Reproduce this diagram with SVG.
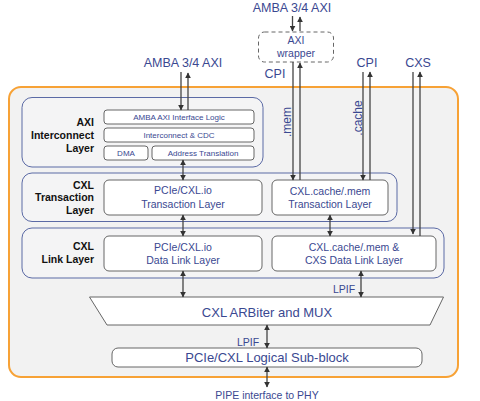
<svg xmlns="http://www.w3.org/2000/svg" width="480" height="401" viewBox="0 0 480 401">
<style>
.t{font-family:"Liberation Sans",Arial,sans-serif;fill:#3a4891;text-anchor:middle}
.lb{font-family:"Liberation Sans",Arial,sans-serif;font-weight:bold;fill:#111;text-anchor:end;font-size:10.5px}
.layer{fill:#f4f4f5;stroke:#5b6aa5;stroke-width:1}
.box{fill:#fff;stroke:#666;stroke-width:1}
.ln{stroke:#444;stroke-width:1.3;fill:none}
</style>
<defs>
<marker id="ah" viewBox="0 0 10 10" refX="9" refY="5" markerWidth="6" markerHeight="6" markerUnits="userSpaceOnUse" orient="auto-start-reverse">
<path d="M0,0 L10,5 L0,10 z" fill="#333"/>
</marker>
</defs>
<rect width="480" height="401" fill="#fff"/>
<rect id="container" x="9" y="87" width="449" height="290" rx="12" fill="#f2f2f2" stroke="#f7a236" stroke-width="2"/>

<g id="axi-layer">
<rect class="layer" x="22" y="97.5" width="241" height="69.5" rx="10"/>
<text class="lb" x="94" y="125.5">AXI</text>
<text class="lb" x="94" y="138.5">Interconnect</text>
<text class="lb" x="94" y="151.5">Layer</text>
</g>
<g id="amba-logic"><rect class="box" x="104" y="110" width="150" height="14" rx="3"/><text class="t" x="179" y="120" font-size="8">AMBA AXI Interface Logic</text></g>
<g id="interconnect-cdc"><rect class="box" x="104" y="128" width="150" height="14" rx="3"/><text class="t" x="179" y="138" font-size="8">Interconnect &amp; CDC</text></g>
<g id="dma"><rect class="box" x="104" y="146" width="44" height="14" rx="3"/><text class="t" x="126" y="156" font-size="8">DMA</text></g>
<g id="addr-trans"><rect class="box" x="152" y="146" width="102" height="14" rx="3"/><text class="t" x="203" y="156" font-size="8">Address Translation</text></g>

<g id="transaction-layer">
<rect class="layer" x="22" y="173" width="375" height="48.5" rx="10"/>
<text class="lb" x="94" y="188.5">CXL</text>
<text class="lb" x="94" y="201">Transaction</text>
<text class="lb" x="94" y="213.5">Layer</text>
</g>
<g id="io-trans"><rect class="box" x="104" y="180" width="158" height="35" rx="5"/><text class="t" x="183" y="194" font-size="10.5">PCIe/CXL.io</text><text class="t" x="183" y="208" font-size="10.5">Transaction Layer</text></g>
<g id="cache-trans"><rect class="box" x="272" y="180" width="116" height="35" rx="5"/><text class="t" x="330" y="194.5" font-size="10.5">CXL.cache/.mem</text><text class="t" x="330" y="208" font-size="10.5">Transaction Layer</text></g>

<g id="link-layer">
<rect class="layer" x="22" y="228" width="422" height="50" rx="10"/>
<text class="lb" x="94" y="250">CXL</text>
<text class="lb" x="94" y="262.5">Link Layer</text>
</g>
<g id="io-link"><rect class="box" x="104" y="236" width="158" height="35" rx="5"/><text class="t" x="183" y="251" font-size="10.5">PCIe/CXL.io</text><text class="t" x="183" y="263.5" font-size="10.5">Data Link Layer</text></g>
<g id="cache-link"><rect class="box" x="272" y="236" width="164" height="35" rx="5"/><text class="t" x="354" y="251" font-size="10.5">CXL.cache/.mem &amp;</text><text class="t" x="354" y="263.5" font-size="10.5">CXS Data Link Layer</text></g>

<g id="arb-mux"><path d="M89.5,297 L443.5,297 L430,325 L107,325 Z" fill="#fff" stroke="#666" stroke-width="1"/><text class="t" x="267" y="316.5" font-size="13">CXL ARBiter and MUX</text></g>
<g id="logical-sub"><rect class="box" x="112" y="348" width="310" height="19" rx="6"/><text class="t" x="267" y="362" font-size="13">PCIe/CXL Logical Sub-block</text></g>

<g id="axi-wrapper"><rect x="258.5" y="32" width="75" height="30" rx="6" fill="#fff" stroke="#666" stroke-width="1" stroke-dasharray="4,3"/><text class="t" x="296" y="44" font-size="10.5">AXI</text><text class="t" x="296" y="57" font-size="10.5">wrapper</text></g>

<g id="labels">
<text class="t" x="183" y="66.5" font-size="12.5">AMBA 3/4 AXI</text>
<text class="t" x="292" y="11.5" font-size="12.5">AMBA 3/4 AXI</text>
<text class="t" x="275" y="77.5" font-size="12.5">CPI</text>
<text class="t" x="367" y="66.5" font-size="12.5">CPI</text>
<text class="t" x="418" y="66.5" font-size="12.5">CXS</text>
<text class="t" x="291" y="122" font-size="12" transform="rotate(-90 291 122)">.mem</text>
<text class="t" x="362" y="118" font-size="12" transform="rotate(-90 362 118)">.cache</text>
<text class="t" x="344" y="293" font-size="10.5">LPIF</text>
<text class="t" x="248" y="345.5" font-size="10.5">LPIF</text>
<text class="t" x="267" y="399" font-size="10.5">PIPE interface to PHY</text>
</g>

<g id="connectors">
<line class="ln" x1="181" y1="72" x2="181" y2="110" marker-end="url(#ah)"/>
<line class="ln" x1="188" y1="110" x2="188" y2="73" marker-end="url(#ah)"/>
<line class="ln" x1="292.5" y1="16" x2="292.5" y2="31" marker-end="url(#ah)"/>
<line class="ln" x1="300" y1="31" x2="300" y2="17" marker-end="url(#ah)"/>
<line class="ln" x1="293" y1="62" x2="293" y2="180" marker-end="url(#ah)"/>
<line class="ln" x1="300" y1="180" x2="300" y2="63" marker-end="url(#ah)"/>
<line class="ln" x1="363" y1="72" x2="363" y2="180" marker-end="url(#ah)"/>
<line class="ln" x1="370" y1="180" x2="370" y2="72" marker-end="url(#ah)"/>
<line class="ln" x1="413" y1="72" x2="413" y2="234" marker-end="url(#ah)"/>
<line class="ln" x1="420" y1="236" x2="420" y2="72" marker-end="url(#ah)"/>
<line class="ln" x1="183" y1="160" x2="183" y2="180" marker-start="url(#ah)" marker-end="url(#ah)"/>
<line class="ln" x1="183" y1="215" x2="183" y2="236" marker-start="url(#ah)" marker-end="url(#ah)"/>
<line class="ln" x1="330" y1="215" x2="330" y2="236" marker-start="url(#ah)" marker-end="url(#ah)"/>
<line class="ln" x1="183" y1="271" x2="183" y2="297" marker-start="url(#ah)" marker-end="url(#ah)"/>
<line class="ln" x1="361" y1="271" x2="361" y2="297" marker-start="url(#ah)" marker-end="url(#ah)"/>
<line class="ln" x1="267" y1="325" x2="267" y2="348" marker-start="url(#ah)" marker-end="url(#ah)"/>
<line class="ln" x1="267" y1="367" x2="267" y2="387" marker-start="url(#ah)" marker-end="url(#ah)"/>
</g>
</svg>
